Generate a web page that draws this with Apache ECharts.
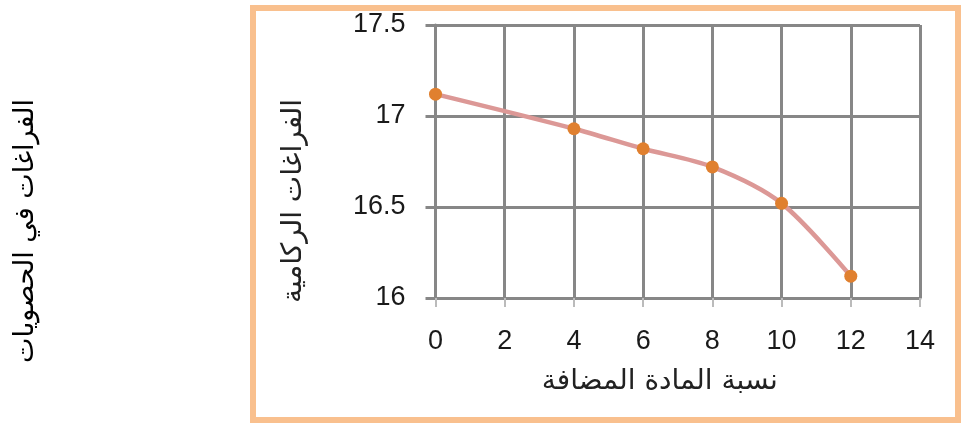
<!DOCTYPE html>
<html>
<head>
<meta charset="utf-8">
<script src="https://cdn.jsdelivr.net/npm/echarts@6/dist/echarts.min.js"></script>
<style>
  html, body { margin: 0; padding: 0; background: #fff; }
  #chart { width: 963px; height: 424px; }
</style>
</head>
<body>
<div id="chart"></div>
<script>
// values
const additive = [0, 4, 6, 8, 10, 12];          // نسبة المادة المضافة
const voids = [17.12, 16.93, 16.82, 16.72, 16.52, 16.12]; // الفراغات الركامية
const xTitle = 'نسبة المادة المضافة';
const yTitle = 'الفراغات الركامية';
const outerTitle = 'الفراغات في الحصويات';

const chart = echarts.init(document.getElementById('chart'));

const gridColor = '#878787';
const labelFont = { fontFamily: 'Liberation Sans', fontSize: 27, color: '#1a1a1a' };

const option = {
    animation: false,
    grid: { left: 435.5, right: 43, top: 25, bottom: 126, containLabel: false },
    xAxis: {
        type: 'value',
        min: 0, max: 14, interval: 2,
        name: xTitle,
        nameLocation: 'middle',
        nameGap: 70,
        nameTextStyle: { fontFamily: 'DejaVu Sans', fontSize: 28, color: '#222', padding: [0, 36, 0, 0] },
        axisLine: { show: true, lineStyle: { color: gridColor, width: 3 } },
        axisTick: { show: true, length: 9, lineStyle: { color: '#bbb', width: 2 } },
        axisLabel: Object.assign({ margin: 30 }, labelFont),
        splitLine: { show: true, lineStyle: { color: gridColor, width: 3 } }
    },
    yAxis: {
        type: 'value',
        min: 16, max: 17.5, interval: 0.5,
        axisLine: { show: true, lineStyle: { color: gridColor, width: 3 } },
        axisTick: { show: true, length: 10, lineStyle: { color: gridColor, width: 3 } },
        axisLabel: Object.assign({ margin: 30 }, labelFont),
        splitLine: { show: true, lineStyle: { color: gridColor, width: 3 } }
    },
    graphic: [
        {
            type: 'rect',
            shape: { x: 253, y: 8, width: 705, height: 412 },
            style: { fill: 'none', stroke: '#F9C08E', lineWidth: 6 },
            z: -10
        },
        {
            type: 'text',
            x: 294, y: 201,
            rotation: Math.PI / 2,
            style: {
                text: yTitle, fontFamily: 'DejaVu Sans', fontSize: 28, fill: '#222',
                align: 'center', verticalAlign: 'middle'
            }
        },
        {
            type: 'text',
            x: 26, y: 231,
            rotation: Math.PI / 2,
            style: {
                text: outerTitle, fontFamily: 'DejaVu Sans', fontSize: 27, fill: '#000',
                align: 'center', verticalAlign: 'middle'
            }
        }
    ],
    series: [
        {
            type: 'line',
            data: additive.map((x, i) => [x, voids[i]]),
            smooth: 0.3,
            lineStyle: { color: '#DC9896', width: 4.5 },
            symbol: 'circle',
            symbolSize: 13,
            itemStyle: { color: '#E0802F' },
            z: 5
        }
    ]
};

chart.setOption(option);
</script>
</body>
</html>
